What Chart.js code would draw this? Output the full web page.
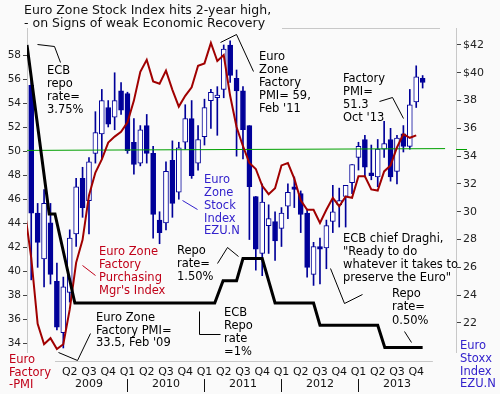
<!DOCTYPE html>
<html><head><meta charset="utf-8">
<script src="https://cdn.jsdelivr.net/npm/chart.js@4/dist/chart.umd.min.js"></script>
<style>html,body{margin:0;padding:0;background:#fafafa;}canvas{display:block;}</style>
</head><body>
<canvas id="c" width="500" height="394"></canvas>
<script>
// ---- DATA (month index: 0 = Jan 2009) ----
const candleFirstMonth = -3; // Oct 2008
const stockOpen  = [39.1,29.9,26.6,29.2,25.0,21.3,24.2,28.4,32.4,30.8,34.2,35.6,37.5,36.8,38.7,38.5,35.0,33.5,36.2,34.2,29.4,29.2,33.7,31.4,35.0,36.7,33.5,35.4,38.0,38.2,38.8,42.0,39.6,38.7,36.2,31.1,27.0,29.0,29.3,28.8,30.4,31.8,31.3,29.9,25.5,27.5,27.4,29.3,30.5,31.1,32.1,33.9,35.2,32.8,32.5,34.5,35.2,32.9,35.6,34.7,37.9,39.6];
const stockHigh  = [39.6,30.6,31.6,30.6,26.3,25.3,28.7,32.4,33.2,33.9,37.2,38.8,38.0,40.0,39.3,38.6,36.7,36.2,37.0,34.7,30.0,33.6,35.1,35.0,37.7,38.0,36.2,38.1,38.8,39.0,42.0,42.3,40.2,39.0,36.2,31.1,32.0,30.5,30.0,30.3,32.0,32.5,31.5,30.2,27.8,28.1,29.4,31.9,31.7,31.9,33.4,35.0,35.5,34.8,35.2,36.5,36.0,35.5,36.2,38.8,40.5,39.8];
const stockLow   = [25.1,26.0,24.6,24.8,21.5,20.2,23.5,27.5,29.6,28.4,33.5,33.8,36.1,35.9,37.0,34.2,32.7,33.3,33.5,28.1,27.7,28.7,29.6,30.9,34.5,32.4,33.0,34.8,36.0,35.5,38.2,39.3,34.0,33.8,28.0,25.8,25.4,27.0,26.5,27.5,29.5,30.3,28.5,25.3,24.7,24.8,25.9,28.5,28.9,28.9,31.3,33.0,32.5,32.3,31.8,33.9,32.2,32.0,34.3,34.5,37.5,38.9];
const stockClose = [29.9,27.8,30.6,25.5,21.7,24.6,28.1,31.8,30.3,33.6,35.7,38.0,36.3,38.0,37.3,34.4,33.4,35.9,34.2,29.8,28.5,32.9,30.6,34.6,36.7,32.6,35.2,37.5,38.6,38.4,41.7,39.8,38.7,35.9,31.8,27.3,30.7,29.5,27.9,29.9,31.4,31.6,29.8,26.0,27.5,27.3,29.0,30.0,30.8,31.9,33.4,34.7,33.2,32.6,34.5,34.9,32.5,35.3,34.7,37.7,39.7,39.3];

const pmiFirstMonth = -4; // Sep 2008
const pmiValues = [45.0,41.1,35.6,33.9,34.4,33.5,33.9,36.8,40.7,42.6,46.3,48.2,49.3,50.7,51.2,51.6,52.4,54.2,56.6,57.6,55.8,55.6,56.7,55.1,53.7,54.6,55.3,57.1,57.3,59.0,57.5,58.0,54.6,52.0,50.4,49.0,48.5,47.1,46.4,46.9,48.8,49.0,47.7,45.9,45.1,45.1,44.0,45.1,46.1,45.4,46.2,46.1,47.9,47.9,46.8,46.7,48.3,48.8,50.3,51.4,51.1,51.3];

const repoMonths = [-3.66,-0.2,0.7,3.8,25.6,26.9,29.0,30.0,33.0,35.0,41.0,42.0,51.0,52.1,58.0];
const repoRates  = [3.9,2.0,2.0,1.0,1.0,1.25,1.25,1.5,1.5,1.0,1.0,0.75,0.75,0.5,0.5];

const pmiRefLevel = [50.05, 50.2]; // green 50 line (start, end)
const leftTicks  = [34,36,38,40,42,44,46,48,50,52,54,56,58];
const rightTicks = [22,24,26,28,30,32,34,36,38,40,42];
const quarterLabels = ['Q2','Q3','Q4','Q1','Q2','Q3','Q4','Q1','Q2','Q3','Q4','Q1','Q2','Q3','Q4','Q1','Q2','Q3','Q4'];
const quarterFirstMonth = 3; // Apr 2009
const yearLabels = ['2009','2010','2011','2012','2013'];

// ---- build ----
const navy = '#000099';
const wickData = [], bodyData = [], bodyFill = [];
stockOpen.forEach((o,i)=>{
  const m = candleFirstMonth + i;
  wickData.push({x:m, y:[stockLow[i], stockHigh[i]]});
  bodyData.push({x:m, y:[o, stockClose[i]]});
  bodyFill.push(stockClose[i] >= o ? '#ffffff' : navy);
});
const pmiData = pmiValues.map((v,i)=>({x:pmiFirstMonth+i, y:v}));
const repoData = repoMonths.map((m,i)=>({x:m, y:repoRates[i]}));
const refData = [{x:-3.66,y:pmiRefLevel[0]},{x:61.5,y:pmiRefLevel[1]}];

const FONT = '"DejaVu Sans", Verdana, sans-serif';
const notes = [
  {x:47, y:[71,84,97,110], c:'#000', t:['ECB','repo','rate=','3.75%'], line:[[37,44],[54,46],[60,62]]},
  {x:259, y:[57,70,83,96,109], c:'#000', t:['Euro','Zone','Factory','PMI= 59,',"Feb '11"], line:[[220,42],[236,34],[253,71]]},
  {x:343, y:[79,92,105,118], c:'#000', t:['Factory','PMI=','51.3',"Oct '13"], line:[[379,101],[392,97],[403,118]]},
  {x:204, y:[180,193,206,219,231], c:'#3322cc', t:['Euro','Zone','Stock','Index','EZU.N'], line:[[182,200],[197,209]]},
  {x:99, y:[252,265,278,291], c:'#c00018', t:['Euro Zone','Factory','Purchasing',"Mgr's Index"], line:[[82,265],[95,275]]},
  {x:177, y:[251,264,277], c:'#000', t:['Repo','rate=','1.50%'], line:[[217,263],[227,247],[238,256]]},
  {x:96, y:[318,331,343], c:'#000', t:['Euro Zone','Factory PMI=',"33.5, Feb '09"], line:[[58,352],[77,360],[90,333]]},
  {x:224, y:[313,326,339,352], c:'#000', t:['ECB','Repo','rate','=1%'], line:[[199,311],[199,334],[220,334]]},
  {x:343, y:[239,252,265,278], c:'#000', t:['ECB chief Draghi,','"Ready to do','whatever it takes to','preserve the Euro"'], line:[[330,268],[344,303],[362,294]]},
  {x:392, y:[294,307,321], c:'#000', t:['Repo','rate=','0.50%'], line:[[404,331],[411,342]]},
  {x:9, y:[360,373,385], c:'#c00018', t:['Euro','Factory','-PMI']},
  {x:460, y:[346,359,372,384], c:'#3322cc', t:['Euro','Stoxx','Index','EZU.N']}
];

const decor = {
  id:'decor',
  beforeDraw(ch){
    const c = ch.ctx; c.save(); c.fillStyle='#fafafa'; c.fillRect(0,0,ch.width,ch.height); c.restore();
  },
  afterDraw(ch){
    const c = ch.ctx, xs = ch.scales.x;
    c.save();
    c.strokeStyle = '#c8c8c8'; c.lineWidth = 1;
    c.beginPath(); c.moveTo(282,28.5); c.lineTo(440,28.5); c.stroke();
    c.beginPath(); c.moveTo(xs.getPixelForValue(0.7),361.5); c.lineTo(xs.getPixelForValue(59.6),361.5); c.stroke();
    c.fillStyle = '#111'; c.font = '12.5px '+FONT; c.textBaseline='alphabetic'; c.textAlign='left';
    c.fillText('Euro Zone Stock Index hits 2-year high,', 24, 14);
    c.fillText('- on Signs of weak Economic Recovery', 24, 27);
    c.font = '11.5px '+FONT; c.textBaseline='middle';
    notes.forEach(n=>{
      c.fillStyle = n.c;
      n.t.forEach((s,i)=>c.fillText(s, n.x, n.y[i]));
      if(n.line){
        c.strokeStyle = n.c; c.lineWidth = 1; c.beginPath();
        n.line.forEach((p,i)=> i? c.lineTo(p[0]+0.5,p[1]+0.5) : c.moveTo(p[0]+0.5,p[1]+0.5));
        c.stroke();
      }
    });
    c.fillStyle='#111'; c.textAlign='center'; c.font='11px '+FONT;
    quarterLabels.forEach((q,i)=>c.fillText(q, xs.getPixelForValue(quarterFirstMonth+3*i), 372));
    yearLabels.forEach((y,i)=>c.fillText(y, xs.getPixelForValue(6+12*i), 384));
    c.strokeStyle='#111'; c.lineWidth=1;
    for(let i=1;i<yearLabels.length;i++){
      const px = Math.round(xs.getPixelForValue(12*i))+0.5;
      c.beginPath(); c.moveTo(px,379); c.lineTo(px,392); c.stroke();
    }
    const gy = ch.scales.yL.getPixelForValue(pmiRefLevel[1]);
    c.strokeStyle='#00a000'; c.beginPath(); c.moveTo(456,Math.round(gy)+0.5); c.lineTo(467,Math.round(gy)+0.5); c.stroke();
    c.restore();
  }
};

new Chart(document.getElementById('c').getContext('2d'), {
  data:{ datasets:[
    {type:'line', data:repoData, yAxisID:'yRepo', borderColor:'#000', borderWidth:3, pointRadius:0, order:1},
    {type:'line', data:pmiData, yAxisID:'yL', borderColor:'#a00000', borderWidth:2, pointRadius:0, order:2},
    {type:'line', data:refData, yAxisID:'yL', borderColor:'#00a000', borderWidth:1, pointRadius:0, order:3},
    {type:'bar', data:bodyData, yAxisID:'yR', backgroundColor:bodyFill, borderColor:navy, borderWidth:1, borderSkipped:false, barThickness:5, grouped:false, order:4},
    {type:'bar', data:wickData, yAxisID:'yR', backgroundColor:navy, borderWidth:0, barThickness:1, grouped:false, order:5}
  ]},
  options:{
    responsive:false, animation:false, devicePixelRatio:1,
    layout:{padding:{top:28, bottom:42, left:0, right:0}},
    plugins:{legend:{display:false}, tooltip:{enabled:false}, title:{display:false}},
    scales:{
      x:{type:'linear', min:-3.66, max:63.2, display:false, offset:false},
      yL:{position:'left', min:33.25, max:60.25,
        afterFit(s){s.width=27;},
        afterBuildTicks(s){s.ticks = leftTicks.map(v=>({value:v}));},
        grid:{drawOnChartArea:false, tickLength:4, color:'#444'},
        border:{color:'#c8c8c8'},
        ticks:{font:{size:10.5, family:FONT}, color:'#222', padding:2}},
      yR:{position:'right', min:19.91, max:43.22,
        afterFit(s){s.width=44;},
        afterBuildTicks(s){s.ticks = rightTicks.map(v=>({value:v}));},
        grid:{drawOnChartArea:false, tickLength:5, color:'#444'},
        border:{color:'#c8c8c8'},
        ticks:{font:{size:11, family:FONT}, color:'#222', padding:2, callback:v=> v>=40 ? '$'+v : String(v)}},
      yRepo:{display:false, min:0.449, max:4.09}
    }
  },
  plugins:[decor]
});
</script>
</body></html>
